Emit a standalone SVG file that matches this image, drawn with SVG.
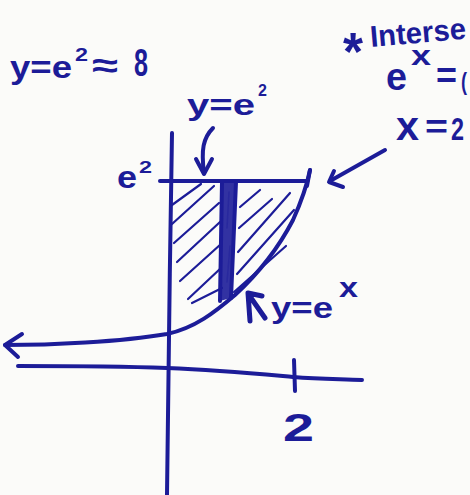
<svg xmlns="http://www.w3.org/2000/svg" width="470" height="495" viewBox="0 0 470 495">
  <style>
    .ink { fill: none; stroke: #1c1c98; stroke-linecap: round; stroke-linejoin: round; }
    .main { stroke-width: 4; }
    .hatch { stroke-width: 2.2; }
    text { font-family: "Liberation Sans", Arial, sans-serif; font-weight: bold; fill: #1c1c98; }
  </style>
  <rect x="0" y="0" width="470" height="495" fill="#fbfbf9"/>

  <g id="axes">
    <path class="ink main" d="M172,133 C170,250 168,400 167,495"/>
    <path class="ink main" d="M18,366 C80,366 140,367 167,368 C220,370 260,374 293,377 C320,379 340,379 362,380"/>
    <path class="ink main" d="M294,360 L295,391"/>
    <text x="283" y="441" font-size="38" textLength="31" lengthAdjust="spacingAndGlyphs">2</text>
  </g>

  <g id="shaded-region">
    <g class="ink hatch">
      <path d="M172,205 L201,184"/>
      <path d="M172,224 L214,186"/>
      <path d="M174,243 L219,203"/>
      <path d="M177,262 L220,222"/>
      <path d="M180,281 L221,244"/>
      <path d="M188,299 L221,268"/>
      <path d="M192,303 L222,288"/>
      <path d="M240,207 L260,190"/>
      <path d="M239,228 L272,199"/>
      <path d="M238,252 L290,193"/>
      <path d="M237,274 L294,210"/>
      <path d="M234,292 L286,246"/>
    </g>
    <polygon points="222,182 236,182 231,298 220,301" fill="#1c1c98" fill-opacity="0.9"/>
    <path class="ink main" d="M222,182 L220,301 M236,182 L231,298"/>
    <path class="ink" stroke-width="1.5" stroke="#ffffff" stroke-opacity="0.45" d="M229,192 L227,228 M230,246 L227,282"/>
  </g>

  <g id="top-line">
    <path class="ink main" d="M160,181 L307,181"/>
    <path class="ink main" d="M310,170 L307,186"/>
    <text x="117" y="188" font-size="32" textLength="20" lengthAdjust="spacingAndGlyphs">e</text>
    <text x="139" y="173" font-size="16" textLength="13" lengthAdjust="spacingAndGlyphs">2</text>
  </g>

  <g id="curve">
    <path class="ink main" d="M5,345 C50,345 120,342 167,334 C195,328 215,312 235,295 C260,272 280,245 293,220 C302,200 307,185 310,170"/>
    <path class="ink main" d="M22,334 L5,345 L18,357"/>
  </g>

  <g id="label-top-left">
    <text x="10" y="78" font-size="32" textLength="62" lengthAdjust="spacingAndGlyphs">y=e</text>
    <text x="75" y="61" font-size="18" textLength="13" lengthAdjust="spacingAndGlyphs">2</text>
    <text x="92" y="77" font-size="34" textLength="26" lengthAdjust="spacingAndGlyphs">≈</text>
    <text x="134" y="76" font-size="38" textLength="14" lengthAdjust="spacingAndGlyphs">8</text>
  </g>

  <g id="label-ye2">
    <text x="187" y="115" font-size="30" textLength="68" lengthAdjust="spacingAndGlyphs">y=e</text>
    <text x="258" y="96" font-size="16">2</text>
  </g>

  <g id="label-intersection">
    <text x="343" y="70" font-size="54" textLength="20" lengthAdjust="spacingAndGlyphs">*</text>
    <text x="371" y="47" font-size="30" textLength="96" lengthAdjust="spacingAndGlyphs" transform="rotate(-5 371 47)">Interse</text>
    <text x="386" y="90" font-size="38" textLength="21" lengthAdjust="spacingAndGlyphs">e</text>
    <text x="411" y="65" font-size="28" textLength="20" lengthAdjust="spacingAndGlyphs">x</text>
    <text x="436" y="88" font-size="36" textLength="21" lengthAdjust="spacingAndGlyphs">=</text>
    <text x="461" y="90" font-size="24" textLength="6" lengthAdjust="spacingAndGlyphs">(</text>
  </g>

  <g id="label-x2">
    <text x="396" y="140" font-size="40" textLength="23" lengthAdjust="spacingAndGlyphs">x</text>
    <text x="425" y="138" font-size="34" textLength="23" lengthAdjust="spacingAndGlyphs">=</text>
    <text x="451" y="140" font-size="32" textLength="13" lengthAdjust="spacingAndGlyphs">2</text>
  </g>

  <g id="label-yex">
    <text x="271" y="318" font-size="30" textLength="62" lengthAdjust="spacingAndGlyphs">y=e</text>
    <text x="339" y="297" font-size="28" textLength="19" lengthAdjust="spacingAndGlyphs">x</text>
  </g>

  <g id="connectors">
    <path class="ink main" d="M213,128 C203,138 201,150 204,173"/>
    <path class="ink main" d="M196,159 L204,174 L212,159"/>
    <path class="ink main" d="M385,150 L330,181"/>
    <path class="ink main" d="M334,171 L329,182 L343,187"/>
    <path class="ink" stroke-width="5" d="M250,321 L248,293 L262,296 M249,295 L265,318"/>
  </g>
</svg>
